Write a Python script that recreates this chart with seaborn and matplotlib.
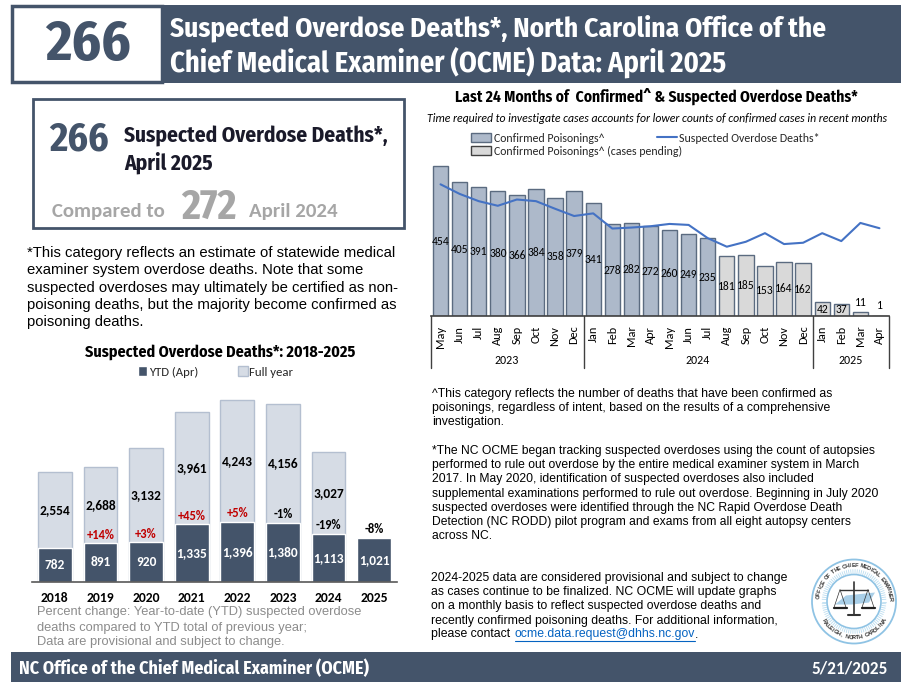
import numpy as np
import pandas as pd
import matplotlib
matplotlib.use('Agg')
import matplotlib.pyplot as plt
from matplotlib.patches import Rectangle, Circle, Polygon
from matplotlib.lines import Line2D
from matplotlib.patches import Patch
import seaborn as sns

# yearly chart data
years = ['2018', '2019', '2020', '2021', '2022', '2023', '2024', '2025']
ytd = [782, 891, 920, 1335, 1396, 1380, 1113, 1021]
full_year = [2554, 2688, 3132, 3961, 4243, 4156, 3027, 0]
pct_change = ['', '+14%', '+3%', '+45%', '+5%', '-1%', '-19%', '-8%']

# monthly chart data
months = ['May', 'Jun', 'Jul', 'Aug', 'Sep', 'Oct', 'Nov', 'Dec',
          'Jan', 'Feb', 'Mar', 'Apr', 'May', 'Jun', 'Jul', 'Aug', 'Sep', 'Oct', 'Nov', 'Dec',
          'Jan', 'Feb', 'Mar', 'Apr']
confirmed = [454, 405, 391, 380, 366, 384, 358, 379,
             341, 278, 282, 272, 260, 249, 235, 181, 185, 153, 164, 162,
             42, 37, 11, 1]
suspected = [399, 370, 348, 334, 353, 348, 325, 303,
             311, 265, 268, 272, 279, 276, 236, 210, 225, 251, 218, 222,
             251, 227, 282, 266]
status = ['done'] * 15 + ['pending'] * 9

DARK = '#44546A'
W, H = 916, 687
NARROW = ['Fira Sans Condensed', 'Liberation Sans']
CAL = ['Carlito', 'Lato', 'DejaVu Sans']
ARIAL = ['Liberation Sans', 'DejaVu Sans']

sns.set_theme(style='white')
plt.rcParams['font.family'] = CAL

fig = plt.figure(figsize=(W / 100, H / 100), dpi=100, facecolor='white')


def px_axes(x0, y0, x1, y1):
    # axes placed with pixel coordinates, y from the top
    return fig.add_axes([x0 / W, 1 - y1 / H, (x1 - x0) / W, (y1 - y0) / H])


bg = px_axes(0, 0, W, H)
bg.set_xlim(0, W)
bg.set_ylim(H, 0)
bg.axis('off')

# header
bg.add_patch(Rectangle((12, 5.5), 150, 76.5, fc='white', ec=DARK, lw=2.5))
bg.add_patch(Rectangle((162, 4.5), 739, 78.5, fc=DARK, ec='none'))
bg.text(87.5, 45, '266', ha='center', va='center', color=DARK, fontsize=41, fontweight='bold', family=NARROW)
bg.text(170, 28, 'Suspected Overdose Deaths*, North Carolina Office of the', va='center',
        color='white', fontsize=19.7, fontweight='bold', family=NARROW)
bg.text(170, 62, 'Chief Medical Examiner (OCME) Data: April 2025', va='center',
        color='white', fontsize=20.5, fontweight='bold', family=NARROW)

# callout box
bg.add_patch(Rectangle((33, 98.5), 371, 129, fc='white', ec=DARK, lw=2))
bg.text(79, 140, '266', ha='center', va='center', color=DARK, fontsize=28.5, fontweight='bold', family=NARROW)
bg.text(124, 136, 'Suspected Overdose Deaths*,', va='center', color='#1a1a2a', fontsize=15.4,
        fontweight='bold', family=NARROW)
bg.text(124, 163, 'April 2025', va='center', color='#1a1a2a', fontsize=15.4, fontweight='bold', family=NARROW)
bg.text(52, 212, 'Compared to', va='center', color='#A6A6A6', fontsize=15, fontweight='bold')
bg.text(208.5, 208, '272', ha='center', va='center', color='#A6A6A6', fontsize=29.5, fontweight='bold', family=NARROW)
bg.text(249, 211, 'April 2024', va='center', color='#A6A6A6', fontsize=15, fontweight='bold')

# left note
note = ['*This category reflects an estimate of statewide medical',
        'examiner system overdose deaths. Note that some',
        'suspected overdoses may ultimately be certified as non-',
        'poisoning deaths, but the majority become confirmed as',
        'poisoning deaths.']
for i, line in enumerate(note):
    bg.text(27, 253 + i * 17.3, line, va='center', color='black', fontsize=10.7, family=ARIAL)

# yearly chart
bg.text(220, 352, 'Suspected Overdose Deaths*: 2018-2025', ha='center', va='center', color='black',
        fontsize=11.5, fontweight='bold', family=NARROW)

df_year = pd.DataFrame({'year': years, 'ytd': ytd, 'full': full_year})
ax1 = px_axes(32, 390, 397, 581.5)
ax1.patch.set_alpha(0)
sns.barplot(data=df_year, x='year', y='full', color='#D6DCE5', saturation=1, width=0.74,
            edgecolor='#B4BFD0', linewidth=1, ax=ax1)
sns.barplot(data=df_year, x='year', y='ytd', color=DARK, saturation=1, width=0.74, ax=ax1)
ax1.set_ylim(0, 191.5 / 0.0427)
ax1.set_xlim(-0.5, 7.5)
ax1.set_xlabel('')
ax1.set_ylabel('')
ax1.set_yticks([])
sns.despine(ax=ax1, left=True)
ax1.spines['bottom'].set_color('#595959')
ax1.spines['bottom'].set_linewidth(1.2)
ax1.tick_params(axis='x', length=0, pad=7.5, labelsize=9.8, colors='black')
for lab in ax1.get_xticklabels():
    lab.set_fontweight('bold')
for i, y in enumerate(years):
    ax1.text(i, ytd[i] / 2, f'{ytd[i]:,}', ha='center', va='center', color='white', fontsize=9.6, fontweight='bold')
    if full_year[i]:
        ax1.text(i, (ytd[i] + full_year[i]) / 2, f'{full_year[i]:,}', ha='center', va='center',
                 color='black', fontsize=9.6, fontweight='bold')
    if pct_change[i]:
        col = '#C00000' if pct_change[i].startswith('+') else 'black'
        ax1.annotate(pct_change[i], (i, ytd[i]), xytext=(0, 6.2), textcoords='offset points',
                     ha='center', va='center', color=col, fontsize=9, fontweight='bold')
ax1.legend(handles=[Patch(fc=DARK, label='YTD (Apr)'), Patch(fc='#D6DCE5', ec='#B4BFD0', label='Full year')],
           ncols=2, frameon=False, loc='center', bbox_to_anchor=(215.5 / W, 1 - 372 / H),
           bbox_transform=fig.transFigure, fontsize=9.2, handlelength=0.75, handleheight=0.75,
           handletextpad=0.15, columnspacing=3.1, labelcolor='#262626')

foot = ['Percent change: Year-to-date (YTD) suspected overdose',
        'deaths compared to YTD total of previous year;',
        'Data are provisional and subject to change.']
for i, line in enumerate(foot):
    bg.text(37, 612.5 + i * 15, line, va='center', color='#8C8C8C', fontsize=9.25, family=ARIAL)

# monthly chart
bg.text(656.5, 96, 'Last 24 Months of  Confirmed^ & Suspected Overdose Deaths*', ha='center', va='center',
        color='black', fontsize=11.2, fontweight='bold', family=NARROW)
bg.text(657, 118, 'Time required to investigate cases accounts for lower counts of confirmed cases in recent months',
        ha='center', va='center', color='black', fontsize=8.5, style='italic')

df_month = pd.DataFrame({'pos': range(len(months)), 'month': months, 'confirmed': confirmed,
                         'suspected': suspected, 'status': status})
ax2 = px_axes(431, 150, 889, 316)
ax2.patch.set_alpha(0)
sns.barplot(data=df_month, x='pos', y='confirmed', hue='status', dodge=False, legend=False,
            palette={'done': '#ADB9CA', 'pending': '#D9D9D9'}, saturation=1, width=0.8,
            edgecolor='#5B6B80', linewidth=1, ax=ax2)
sns.lineplot(data=df_month, x='pos', y='suspected', color='#4472C4', linewidth=1.5, ax=ax2)
ax2.set_ylim(0, 166 / 0.33)
ax2.set_xlim(-0.5, 23.5)
ax2.set_xlabel('')
ax2.set_ylabel('')
ax2.set_yticks([])
sns.despine(ax=ax2, left=True)
ax2.spines['bottom'].set_color('#404040')
ax2.spines['bottom'].set_linewidth(1.2)
ax2.set_xticks(range(len(months)))
ax2.set_xticklabels(months, rotation=90, fontsize=8.8, color='black')
ax2.tick_params(axis='x', length=0, pad=7)
for i, v in enumerate(confirmed):
    if v >= 30:
        ax2.text(i, v / 2, str(v), ha='center', va='center', color='black', fontsize=8.3)
    else:
        ax2.annotate(str(v), (i, v), xytext=(0, 7), textcoords='offset points', ha='center', va='center',
                     color='black', fontsize=8.3)

# year groups under the month labels
for x in [431, 583.5, 812.5, 889]:
    bg.plot([x, x], [316, 367.5], color='#404040', lw=1)
for x, label in [(507, '2023'), (698, '2024'), (850.5, '2025')]:
    bg.text(x, 360, label, ha='center', va='center', color='black', fontsize=8.6)

ax2.legend(handles=[Patch(fc='#ADB9CA', ec='#5B6B80', label='Confirmed Poisonings^'),
                    Patch(fc='#D9D9D9', ec='#404040', label='Confirmed Poisonings^ (cases pending)'),
                    Line2D([], [], color='#4472C4', lw=1.5, label='Suspected Overdose Deaths*')],
           ncols=2, frameon=False, loc='upper left', bbox_to_anchor=(471 / W, 1 - 132.5 / H),
           bbox_transform=fig.transFigure, fontsize=8.55, handlelength=1.7, handleheight=0.8,
           handletextpad=0.2, columnspacing=-2.1, labelspacing=0.2, borderpad=0, borderaxespad=0,
           labelcolor='#262626')

# right hand notes
right_a = ['^This category reflects the number of deaths that have been confirmed as',
           'poisonings, regardless of intent, based on the results of a comprehensive',
           'investigation.']
for i, line in enumerate(right_a):
    bg.text(432, 394 + i * 14.2, line, va='center', color='black', fontsize=8.8, family=ARIAL)
right_b = ['*The NC OCME began tracking suspected overdoses using the count of autopsies',
           'performed to rule out overdose by the entire medical examiner system in March',
           '2017. In May 2020, identification of suspected overdoses also included',
           'supplemental examinations performed to rule out overdose. Beginning in July 2020',
           'suspected overdoses were identified through the NC Rapid Overdose Death',
           'Detection (NC RODD) pilot program and exams from all eight autopsy centers',
           'across NC.']
for i, line in enumerate(right_b):
    bg.text(432, 451 + i * 14.2, line, va='center', color='black', fontsize=8.75, family=ARIAL)
right_c = ['2024-2025 data are considered provisional and subject to change',
           'as cases continue to be finalized. NC OCME will update graphs',
           'on a monthly basis to reflect suspected overdose deaths and',
           'recently confirmed poisoning deaths. For additional information,']
for i, line in enumerate(right_c):
    bg.text(431, 578 + i * 14.2, line, va='center', color='black', fontsize=8.8, family=ARIAL)
t1 = bg.text(431, 634.5, 'please contact ', va='center', color='black', fontsize=8.8, family=ARIAL)
rend = fig.canvas.get_renderer()
link_x = t1.get_window_extent(rend).x1 + 1
t2 = bg.text(link_x, 634.5, 'ocme.data.request@dhhs.nc.gov', va='center', color='#0563C1', fontsize=8.8, family=ARIAL)
link_end = t2.get_window_extent(rend).x1
bg.plot([link_x, link_end], [640.5, 640.5], color='#0563C1', lw=0.8)
bg.text(link_end, 634.5, '.', va='center', color='black', fontsize=8.8, family=ARIAL)

# seal
sx, sy = 854, 601.5
ang = np.linspace(0, 2 * np.pi, 90, endpoint=False)
for a in ang:
    bg.plot([sx + 28 * np.cos(a), sx + 32 * np.cos(a)], [sy + 28 * np.sin(a), sy + 32 * np.sin(a)],
            color='#BBDDF0', lw=0.6, zorder=2)
bg.add_patch(Circle((sx, sy), 42, fc='none', ec='#8FC3E4', lw=1.3, zorder=2))
bg.add_patch(Circle((sx, sy), 27, fc='white', ec='#8FC3E4', lw=1.2, zorder=3))
bg.add_patch(Polygon([(sx - 19, sy + 3), (sx - 8, sy - 6), (sx + 21, sy - 9), (sx + 15, sy + 1), (sx - 2, sy + 3)],
                     fc='#A9CFE8', ec='none', zorder=4))
bg.plot([sx, sx], [sy - 20, sy + 13], color='#333333', lw=1.2, zorder=5)
bg.plot([sx - 14, sx + 14], [sy - 12, sy - 12], color='#333333', lw=1, zorder=5)
bg.plot([sx - 6, sx + 6], [sy + 13, sy + 13], color='#333333', lw=1.5, zorder=5)
for d in (-14, 14):
    bg.plot([sx + d - 6, sx + d, sx + d + 6], [sy + 6, sy - 12, sy + 6], color='#333333', lw=0.5, zorder=5)
    bg.plot([sx + d - 6.5, sx + d + 6.5], [sy + 6, sy + 6], color='#222222', lw=1.6, zorder=5)


def ring_text(text, a0, a1, r, flip=False):
    # one letter at a time around the seal
    for ch, a in zip(text, np.radians(np.linspace(a0, a1, len(text)))):
        rot = np.degrees(-a) + (90 if flip else -90)
        bg.text(sx + r * np.cos(a), sy + r * np.sin(a), ch, ha='center', va='center', rotation=rot,
                rotation_mode='anchor', fontsize=4.1, fontweight='bold', color='#333333', family=ARIAL, zorder=6)


ring_text('OFFICE OF THE CHIEF MEDICAL EXAMINER', -172, -5, 36)
ring_text('RALEIGH, NORTH CAROLINA', 148, 32, 36, flip=True)

# footer
bg.add_patch(Rectangle((11, 652), 890, 30, fc=DARK, ec='none'))
bg.text(19, 669, 'NC Office of the Chief Medical Examiner (OCME)', va='center', color='white', fontsize=12.9,
        fontweight='bold', family=NARROW)
bg.text(888, 668, '5/21/2025', ha='right', va='center', color='white', fontsize=12.4, fontweight='bold')

fig.savefig('out.png', dpi=100)
